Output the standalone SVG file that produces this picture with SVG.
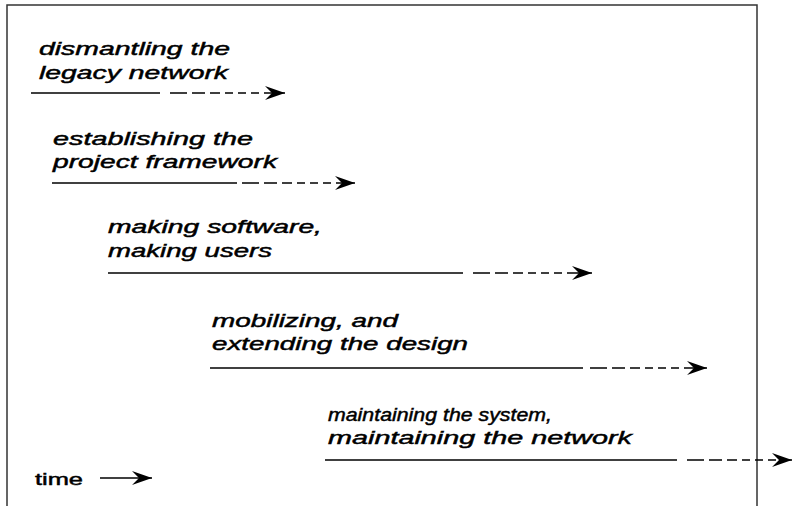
<svg xmlns="http://www.w3.org/2000/svg" width="793" height="506" viewBox="0 0 793 506">
  <style>
    .lbl { font-family: "Liberation Sans", Arial, sans-serif; font-size: 18px; font-style: italic; fill: #000; stroke: #000; stroke-width: 0.45; }
    .time { font-family: "Liberation Sans", Arial, sans-serif; font-size: 16px; fill: #000; stroke: #000; stroke-width: 0.45; }
    .solid { stroke: #000; stroke-width: 1.4; fill: none; }
    .dash { stroke: #000; stroke-width: 1.4; fill: none; stroke-dasharray: 17 5 13 5 10 5 8 5 8 5 8 5 40; }
    .frame { stroke: #333; stroke-width: 1.5; fill: none; }
  </style>
  <defs>
    <marker id="arr" viewBox="-21 -8 22 16" refX="0" refY="0" markerWidth="22" markerHeight="16" markerUnits="userSpaceOnUse" orient="auto">
      <path d="M0,0 L-20,-7 L-13,0 L-20,7 Z" fill="#000"/>
    </marker>
  </defs>
  <rect width="793" height="506" fill="#fff"/>
  <path class="frame" d="M7,510 L7,5 L757,5 L757,510"/>

  <g id="connectors">
    <line class="solid" x1="31" y1="93" x2="160" y2="93"/>
    <line class="dash" x1="170" y1="93" x2="285" y2="93" marker-end="url(#arr)"/>
    <line class="solid" x1="52" y1="183" x2="237" y2="183"/>
    <line class="dash" x1="242" y1="183" x2="355" y2="183" marker-end="url(#arr)"/>
    <line class="solid" x1="108" y1="273" x2="463" y2="273"/>
    <line class="dash" x1="473" y1="273" x2="592" y2="273" marker-end="url(#arr)"/>
    <line class="solid" x1="210" y1="368" x2="583" y2="368"/>
    <line class="dash" x1="590" y1="368" x2="707" y2="368" marker-end="url(#arr)"/>
    <line class="solid" x1="325" y1="460" x2="677" y2="460"/>
    <line class="dash" x1="687" y1="460" x2="792" y2="460" marker-end="url(#arr)"/>
    <line class="solid" x1="100" y1="478" x2="152" y2="478" marker-end="url(#arr)"/>
  </g>

  <g id="dismantling">
    <text class="lbl" x="39" y="55" textLength="191" lengthAdjust="spacingAndGlyphs">dismantling the</text>
    <text class="lbl" x="39" y="79" textLength="189" lengthAdjust="spacingAndGlyphs">legacy network</text>
  </g>
  <g id="establishing">
    <text class="lbl" x="53" y="145" textLength="200" lengthAdjust="spacingAndGlyphs">establishing the</text>
    <text class="lbl" x="53" y="168" textLength="224" lengthAdjust="spacingAndGlyphs">project framework</text>
  </g>
  <g id="making">
    <text class="lbl" x="108" y="233" textLength="214" lengthAdjust="spacingAndGlyphs">making software,</text>
    <text class="lbl" x="108" y="257" textLength="164" lengthAdjust="spacingAndGlyphs">making users</text>
  </g>
  <g id="mobilizing">
    <text class="lbl" x="212" y="327" textLength="186" lengthAdjust="spacingAndGlyphs">mobilizing, and</text>
    <text class="lbl" x="212" y="350" textLength="256" lengthAdjust="spacingAndGlyphs">extending the design</text>
  </g>
  <g id="maintaining">
    <text class="lbl" x="328" y="421" textLength="224" lengthAdjust="spacingAndGlyphs">maintaining the system,</text>
    <text class="lbl" x="328" y="444" textLength="304" lengthAdjust="spacingAndGlyphs">maintaining the network</text>
  </g>
  <g id="time">
    <text class="time" x="35" y="485" textLength="48" lengthAdjust="spacingAndGlyphs">time</text>
  </g>
</svg>
